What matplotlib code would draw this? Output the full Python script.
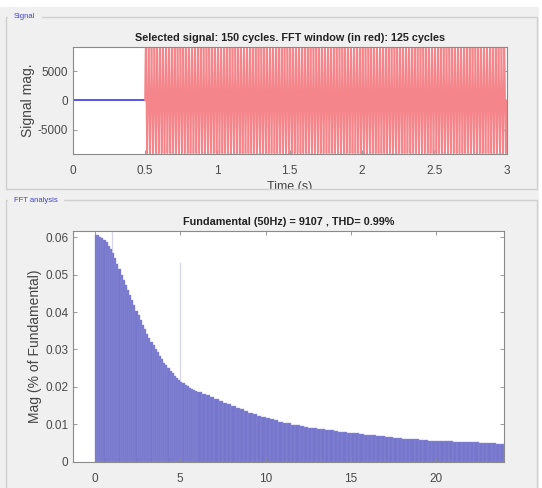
import matplotlib.pyplot as plt
import numpy as np
from matplotlib.patches import Rectangle

plt.rcParams['font.family'] = ['Liberation Sans', 'DejaVu Sans']
plt.rcParams['axes.unicode_minus'] = False

f0 = 50.0            # fundamental (Hz)
fund_mag = 9107      # fundamental magnitude
t_start, t_stop = 0.0, 3.0
win_start = 0.5      # FFT window starts here (red part)

# FFT panel: magnitude (% of fundamental)
# harmonic 0 .. 5.875, every 0.125
fft_mag_lo = [
    0.0607, 0.0605, 0.0602, 0.0598, 0.0594, 0.0587, 0.0578, 0.0568,
    0.0557, 0.0544, 0.0530, 0.0515, 0.0500, 0.0487, 0.0473, 0.0460,
    0.0446, 0.0432, 0.0418, 0.0404, 0.0391, 0.0378, 0.0366, 0.0354,
    0.0342, 0.0331, 0.0321, 0.0311, 0.0301, 0.0292, 0.0283, 0.0274,
    0.0265, 0.0257, 0.0250, 0.0243, 0.0236, 0.0230, 0.0224, 0.0219,
    0.0214, 0.0210, 0.0206, 0.0202, 0.0198, 0.0195, 0.0192, 0.0189,
]
# harmonic 6 .. 24, every 0.25
fft_mag_hi = [
    0.0187, 0.0182, 0.0177, 0.0172, 0.0167, 0.0162, 0.0157, 0.0153,
    0.0148, 0.0144, 0.0140, 0.0136, 0.0131, 0.0127, 0.0123, 0.0120,
    0.0117, 0.0114, 0.0110, 0.0107, 0.0104, 0.0102, 0.0099, 0.0097,
    0.0095, 0.0093, 0.0091, 0.0089, 0.0088, 0.0086, 0.0085, 0.0084,
    0.0082, 0.0080, 0.0079, 0.0077, 0.0076, 0.0075, 0.0073, 0.0072,
    0.0071, 0.0070, 0.0068, 0.0067, 0.0066, 0.0065, 0.0063, 0.0062,
    0.0061, 0.0060, 0.0059, 0.0059, 0.0058, 0.0057, 0.0056, 0.0056,
    0.0055, 0.0055, 0.0054, 0.0054, 0.0053, 0.0053, 0.0052, 0.0052,
    0.0051, 0.0051, 0.0050, 0.0050, 0.0049, 0.0049, 0.0048, 0.0048,
    0.0048,
]
step_lo, step_hi = 0.125, 0.25
harm_order = np.concatenate([np.arange(len(fft_mag_lo)) * step_lo,
                             6 + np.arange(len(fft_mag_hi)) * step_hi])
harm_width = [step_lo] * len(fft_mag_lo) + [step_hi] * len(fft_mag_hi)
fft_mag = fft_mag_lo + fft_mag_hi
# faint spikes sticking out above the envelope
spike_order = [1, 5]
spike_top = [0.062, 0.0534]

W, H = 542, 488
BG = '#f0f0f0'
fig = plt.figure(figsize=(W / 100, H / 100), dpi=100, facecolor=BG)


def fbox(x0, y0, x1, y1):
    # pixel box (from top-left) -> figure fractions
    return [x0 / W, 1 - y1 / H, (x1 - x0) / W, (y1 - y0) / H]


tick_col = '#4a4a4a'
frame_col = '#8a8a8a'


def style(ax):
    ax.set_facecolor('white')
    ax.tick_params(direction='in', length=3, width=0.6, colors=frame_col,
                   labelcolor=tick_col, labelsize=8.5, top=True, right=True)
    ax.tick_params(axis='x', pad=8)
    for s in ax.spines.values():
        s.set_color(frame_col)
        s.set_linewidth(0.8)


# ---- signal ----
ax1 = fig.add_axes(fbox(72.7, 46.7, 506.5, 154))
t_pre = np.array([t_start, win_start])
t_win = np.linspace(win_start, t_stop, 5001)
sig = fund_mag * np.sin(2 * np.pi * f0 * (t_win - win_start))
ax1.plot(t_pre, [0, 0], color='#5555ee', lw=1.4)
ax1.plot(t_win, sig, color='#f4868b', lw=1.2)
ax1.set_xlim(0, 3)
ax1.set_ylim(-9200, 9200)
ax1.set_yticks([-5000, 0, 5000])
ax1.set_xticks([0, 0.5, 1, 1.5, 2, 2.5, 3])
ax1.set_xticklabels(['0', '0.5', '1', '1.5', '2', '2.5', '3'])
style(ax1)
ax1.set_title('Selected signal: 150 cycles. FFT window (in red): 125 cycles',
              fontsize=7.8, fontweight='bold', color='#222222', pad=4)
ax1.set_ylabel('Signal mag.', fontsize=10, color='#444444')
ax1.yaxis.set_label_coords(-0.087, 0.5)
ax1.set_xlabel('Time (s)', fontsize=9, color='#444444', labelpad=3)

# ---- FFT ----
ax2 = fig.add_axes(fbox(73.3, 231, 504.3, 461.5))
ax2.vlines(spike_order, 0, spike_top, color='#d6d6ea', lw=0.9, zorder=0.5)
ax2.bar(harm_order, fft_mag, width=harm_width, align='edge', color='#7676cc',
        edgecolor='#8e8ed8', linewidth=0.3, zorder=1)
ax2.set_xlim(-1.27, 24)
ax2.set_ylim(0, 0.0617)
ax2.set_xticks([0, 5, 10, 15, 20])
ax2.set_yticks([0, 0.01, 0.02, 0.03, 0.04, 0.05, 0.06])
ax2.set_yticklabels(['0', '0.01', '0.02', '0.03', '0.04', '0.05', '0.06'])
style(ax2)
ax2.set_title('Fundamental (50Hz) = 9107 , THD= 0.99%', fontsize=7.8,
              fontweight='bold', color='#222222', pad=4)
ax2.set_ylabel('Mag (% of Fundamental)', fontsize=10, color='#444444')
ax2.yaxis.set_label_coords(-0.072, 0.5)
ax2.set_xlabel('Harmonic order', fontsize=9, color='#444444', labelpad=4)

# ---- panel frames ----
def px_rect(x0, y0, x1, y1, **kw):
    r = Rectangle((x0 / W, 1 - y1 / H), (x1 - x0) / W, (y1 - y0) / H,
                  transform=fig.transFigure, **kw)
    fig.patches.append(r)
    return r


# white strips at top and right edge of the screenshot
px_rect(0, 0, W, 7, facecolor='white', edgecolor='none', zorder=4)
px_rect(539, 0, W, H, facecolor='white', edgecolor='none', zorder=4)
# gap between the two panels hides the lower half of "Time (s)"
px_rect(0, 190, 539, 199, facecolor=BG, edgecolor='none', zorder=5)
px_rect(6, 17, 537, 189, facecolor='none', edgecolor='#cfcfcf', lw=1, zorder=6)
px_rect(6, 200, 537, H + 5, facecolor='none', edgecolor='#cfcfcf', lw=1, zorder=6)

fig.text(14 / W, 1 - 17 / H, 'Signal', fontsize=5.5, color='#4040cc',
         va='center', ha='left', zorder=7, backgroundcolor=BG)
fig.text(14 / W, 1 - 200 / H, 'FFT analysis', fontsize=5.5, color='#4040cc',
         va='center', ha='left', zorder=7, backgroundcolor=BG)

fig.savefig('out.png', dpi=100, facecolor=BG)
